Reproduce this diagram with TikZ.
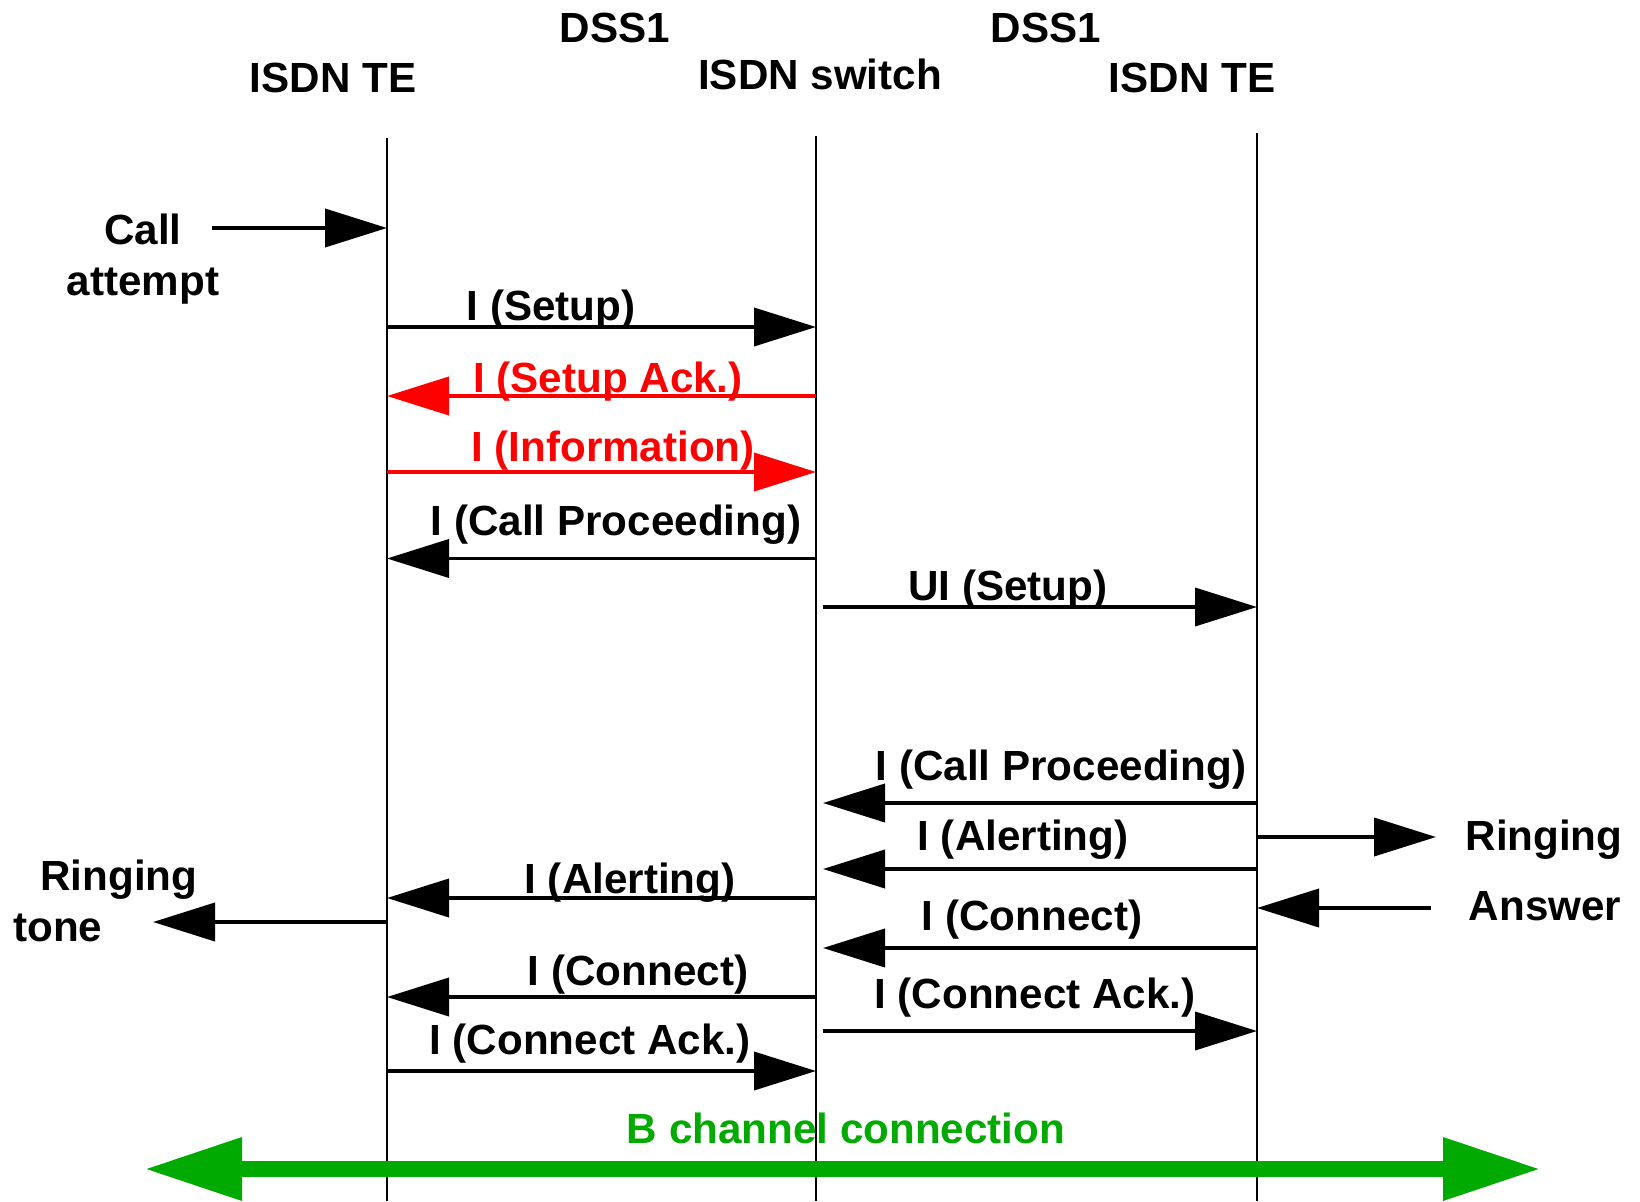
\documentclass[tikz,border=0pt]{standalone}
\usepackage{fontspec}
\setmainfont{Liberation Sans}
\usetikzlibrary{arrows.meta}

\definecolor{msgred}{RGB}{255,0,0}
\definecolor{bgreen}{RGB}{0,170,0}

\tikzset{
  lbl/.style={font=\fontsize{12}{14.5}\selectfont\bfseries, inner sep=0pt, anchor=base},
  life/.style={line width=0.5pt},
  msg/.style={line width=1.1pt, -{Triangle[length=6.2mm,width=3.8mm]}},
  bchan/.style={bgreen, line width=1.6mm,
    {Triangle[length=9.8mm,width=5.9mm]}-{Triangle[length=9.8mm,width=5.9mm]}},
}

\begin{document}
\begin{tikzpicture}
  \useasboundingbox (0,0) rectangle (16.4,-12.01);

  % Headers
  \node[lbl] (dssA) at (6.15,-0.43) {DSS1};
  \node[lbl] (dssB) at (10.46,-0.43) {DSS1};
  \node[lbl] (teA) at (3.33,-0.93) {ISDN TE};
  \node[lbl] (sw) at (8.20,-0.90) {ISDN switch};
  \node[lbl] (teB) at (11.92,-0.93) {ISDN TE};

  % Lifelines
  \coordinate (lA) at (3.87,-1.38);
  \coordinate (lB) at (8.16,-1.36);
  \coordinate (lC) at (12.57,-1.33);
  \coordinate (lBr) at (8.23,-1.36); % right side of the switch
  \draw[life] (lA) -- (lA |- 0,-12.01);
  \draw[life] (lB) -- (lB |- 0,-12.01);
  \draw[life] (lC) -- (lC |- 0,-12.01);

  % Call attempt
  \node[lbl, align=center] (call) at (1.43,-2.95) {Call\\attempt};
  \coordinate (callsrc) at (2.12,-2.28);
  \draw[msg] (callsrc) -- (lA |- callsrc);

  % TE -- switch
  \node[lbl] (setup) at (5.51,-3.20) {I (Setup)};
  \draw[msg] (lA |- 0,-3.27) -- (lB |- 0,-3.27);
  \node[lbl, msgred] (setupack) at (6.08,-3.92) {I (Setup Ack.)};
  \draw[msg, msgred] (lB |- 0,-3.96) -- (lA |- 0,-3.96);
  \node[lbl, msgred] (info) at (6.13,-4.61) {I (Information)};
  \draw[msg, msgred] (lA |- 0,-4.72) -- (lB |- 0,-4.72);
  \node[lbl] (procA) at (6.16,-5.35) {I (Call Proceeding)};
  \draw[msg] (lB |- 0,-5.585) -- (lA |- 0,-5.585);

  % switch -- TE
  \node[lbl] (uisetup) at (10.08,-6.00) {UI (Setup)};
  \draw[msg] (lBr |- 0,-6.07) -- (lC |- 0,-6.07);
  \node[lbl] (procB) at (10.61,-7.80) {I (Call Proceeding)};
  \draw[msg] (lC |- 0,-8.03) -- (lBr |- 0,-8.03);
  \node[lbl] (alertB) at (10.23,-8.50) {I (Alerting)};
  \draw[msg] (lC |- 0,-8.69) -- (lBr |- 0,-8.69);

  % Ringing / Answer
  \node[lbl] (ringing) at (15.44,-8.50) {Ringing};
  \coordinate (ringdst) at (14.36,-8.37);
  \draw[msg] (lC |- ringdst) -- (ringdst);
  \node[lbl] (answer) at (15.45,-9.20) {Answer};
  \coordinate (answersrc) at (14.31,-9.08);
  \draw[msg] (answersrc) -- (lC |- answersrc);

  \node[lbl] (alertA) at (6.30,-8.93) {I (Alerting)};
  \draw[msg] (lB |- 0,-8.98) -- (lA |- 0,-8.98);

  % Ringing tone
  \node[lbl, align=left, anchor=base west] (ringtone) at (0.126,-9.41)
    {\hspace*{2.7mm}Ringing\\tone};
  \coordinate (tonedst) at (1.53,-9.22);
  \draw[msg] (lA |- tonedst) -- (tonedst);

  \node[lbl] (connB) at (10.32,-9.30) {I (Connect)};
  \draw[msg] (lC |- 0,-9.48) -- (lBr |- 0,-9.48);
  \node[lbl] (connA) at (6.38,-9.85) {I (Connect)};
  \draw[msg] (lB |- 0,-9.97) -- (lA |- 0,-9.97);
  \node[lbl] (cackB) at (10.35,-10.08) {I (Connect Ack.)};
  \draw[msg] (lBr |- 0,-10.31) -- (lC |- 0,-10.31);
  \node[lbl] (cackA) at (5.90,-10.54) {I (Connect Ack.)};
  \draw[msg] (lA |- 0,-10.71) -- (lB |- 0,-10.71);

  % B channel
  \node[lbl, bgreen] (bchan) at (8.46,-11.43) {B channel connection};
  \coordinate (bl) at (1.44,-11.69);
  \coordinate (br) at (15.41,-11.69);
  \draw[bchan] (bl) -- (br);
\end{tikzpicture}
\end{document}
